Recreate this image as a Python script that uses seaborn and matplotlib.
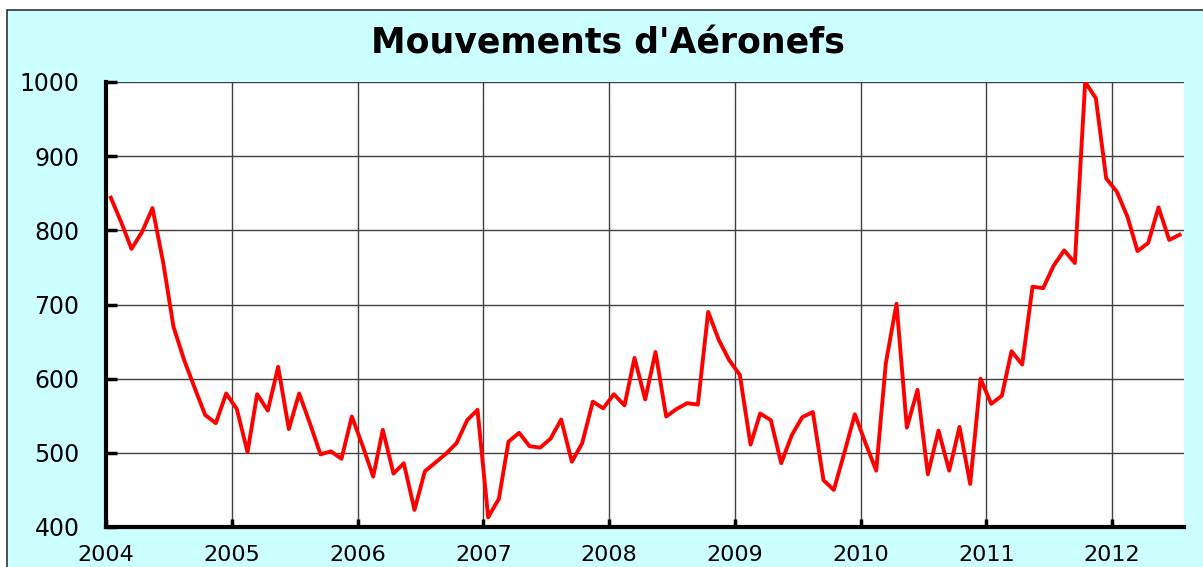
import pandas as pd
import matplotlib.pyplot as plt
import matplotlib.dates as mdates
from matplotlib.patches import Rectangle
import seaborn as sns

# mouvements mensuels, janvier 2004 -> juillet 2012
mouvements = [
    844, 810, 775, 798, 830, 757, 670, 625, 587, 551, 540, 580,
    559, 501, 579, 557, 616, 532, 580, 540, 498, 502, 492, 549,
    510, 468, 531, 472, 486, 423, 475, 487, 499, 513, 544, 558,
    413, 438, 515, 527, 509, 507, 519, 545, 488, 513, 569, 560,
    579, 564, 628, 572, 636, 549, 559, 567, 565, 690, 652, 625,
    605, 511, 553, 544, 486, 524, 548, 555, 463, 450, 501, 552,
    513, 476, 621, 701, 534, 585, 471, 530, 476, 535, 458, 600,
    566, 577, 637, 619, 724, 722, 752, 773, 756, 1000, 978, 870,
    852, 818, 772, 783, 831, 787, 794,
]
annees = list(range(2004, 2013))
yticks = [400, 500, 600, 700, 800, 900, 1000]

mois = pd.date_range("2004-01-01", periods=len(mouvements), freq="MS") + pd.Timedelta(days=14)
df = pd.DataFrame({"mois": mois, "mouvements": mouvements})

plt.rcParams["font.family"] = ["DejaVu Sans"]

fig = plt.figure(figsize=(12.03, 5.67), dpi=100)
fig.patch.set_facecolor("white")

# fond cyan du graphique
fig.patches.append(Rectangle((7 / 1203, -0.1), 1.2, 1.1 - 10 / 567,
                             transform=fig.transFigure, facecolor="#ccffff",
                             edgecolor="#333333", linewidth=1.2, zorder=-10))

ax = fig.add_axes([106 / 1203, 1 - 527 / 567, (1184 - 106) / 1203, (527 - 82) / 567])
ax.set_facecolor("white")

sns.lineplot(data=df, x="mois", y="mouvements", ax=ax, color="#ff0000",
             linewidth=2.8, zorder=5)

ax.set_ylim(400, 1000)
ax.set_xlim(pd.Timestamp("2004-01-01"), pd.Timestamp("2012-07-28"))
ax.set_yticks(yticks)
ax.set_xticks([pd.Timestamp(f"{a}-01-01") for a in annees])
ax.xaxis.set_major_formatter(mdates.DateFormatter("%Y"))

ax.grid(True, color="#404040", linewidth=1.0)
ax.set_axisbelow(True)

for s in ["top", "right"]:
    ax.spines[s].set_visible(False)
for s in ["left", "bottom"]:
    ax.spines[s].set_linewidth(3)
    ax.spines[s].set_color("black")
    ax.spines[s].set_zorder(6)

ax.tick_params(axis="y", direction="in", length=8, width=2.5, pad=19,
               labelsize=17, colors="black")
ax.tick_params(axis="x", direction="in", length=6, width=2.5, pad=13,
               labelsize=16, colors="black")

ax.set_xlabel("")
ax.set_ylabel("")

fig.text(0.505, 1 - 43 / 567, "Mouvements d'Aéronefs", ha="center", va="center",
         fontsize=25, fontweight="bold")

plt.savefig("out.png", dpi=100)
